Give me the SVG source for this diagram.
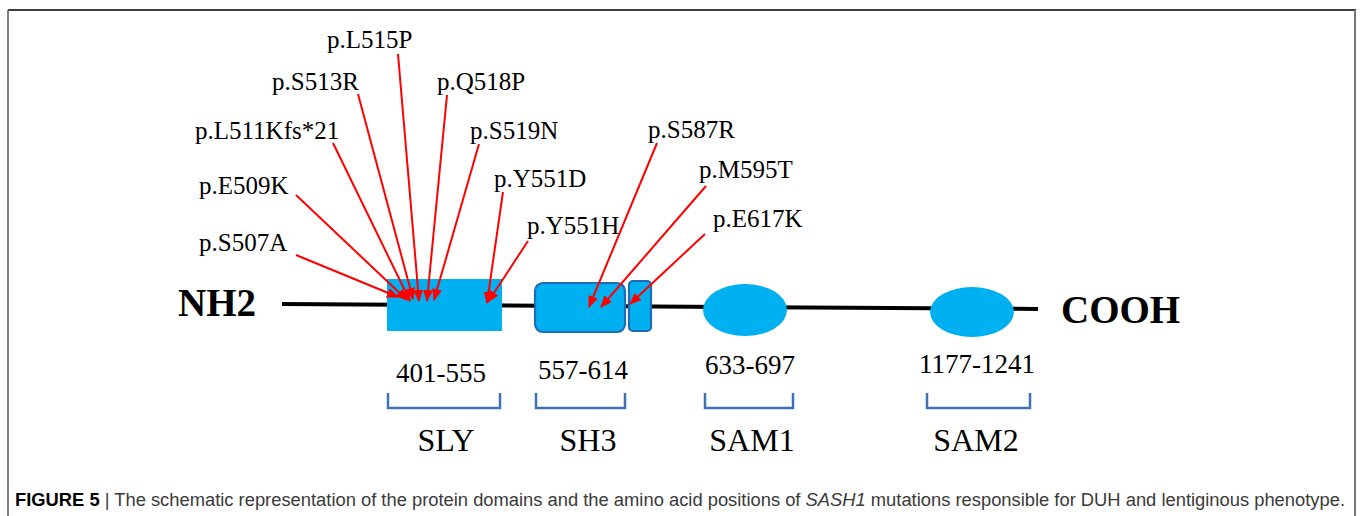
<svg xmlns="http://www.w3.org/2000/svg" width="1360" height="516" viewBox="0 0 1360 516">
<style>
.lbl{font-family:"Liberation Serif","Times New Roman",serif;font-size:25px;fill:#000}
.num{font-family:"Liberation Serif","Times New Roman",serif;font-size:27px;fill:#000;text-anchor:middle}
.dom{font-family:"Liberation Serif","Times New Roman",serif;font-size:32px;fill:#000;text-anchor:middle}
.term{font-family:"Liberation Serif","Times New Roman",serif;font-size:39px;font-weight:bold;fill:#000}
.arrow{stroke:#ff0000;stroke-width:2;fill:none;marker-end:url(#ah)}
.brk{stroke:#3f72b4;stroke-width:2.5;fill:none}
.dfill{fill:#00b0f0}
.dstroke{fill:#00b0f0;stroke:#1f6cb5;stroke-width:2.2}
.cap{font-family:"Liberation Sans",Arial,sans-serif;font-size:18px;fill:#3a3a3a}
</style>
<defs>
<marker id="ah" markerWidth="12" markerHeight="10" refX="11" refY="5" orient="auto" markerUnits="userSpaceOnUse">
<path d="M0,0 L12,5 L0,10 z" fill="#ff0000"/>
</marker>
</defs>
<rect width="1360" height="516" fill="#fff"/>
<g id="frame">
<line x1="8" y1="10" x2="1356" y2="10" stroke="#000" stroke-width="1.5"/>
<line x1="8" y1="10" x2="8" y2="516" stroke="#555" stroke-width="1.5"/>
<line x1="1355" y1="10" x2="1355" y2="516" stroke="#777" stroke-width="2"/>
</g>
<g id="backbone">
<line x1="282" y1="304" x2="1038" y2="309" stroke="#000" stroke-width="4"/>
</g>
<g id="node-NH2"><text class="term" x="178" y="316">NH2</text></g>
<g id="node-COOH"><text class="term" x="1061" y="323">COOH</text></g>
<g id="node-SLY">
<rect class="dfill" x="387" y="279" width="115" height="52"/>
<text class="num" x="441" y="382">401-555</text>
<path class="brk" d="M388,393 V408 H500 V393"/>
<text class="dom" x="446" y="451">SLY</text>
</g>
<g id="node-SH3">
<rect class="dstroke" x="535" y="283" width="90" height="49" rx="8"/>
<rect class="dstroke" x="629" y="281" width="22" height="50" rx="4"/>
<text class="num" x="583" y="379">557-614</text>
<path class="brk" d="M536,393 V408 H625 V393"/>
<text class="dom" x="588" y="451">SH3</text>
</g>
<g id="node-SAM1">
<ellipse class="dfill" cx="745" cy="310" rx="42" ry="26"/>
<text class="num" x="750" y="374">633-697</text>
<path class="brk" d="M705,393 V408 H793 V393"/>
<text class="dom" x="752" y="451">SAM1</text>
</g>
<g id="node-SAM2">
<ellipse class="dfill" cx="972" cy="312" rx="42" ry="25"/>
<text class="num" x="977" y="373">1177-1241</text>
<path class="brk" d="M927,393 V408 H1030 V393"/>
<text class="dom" x="976" y="451">SAM2</text>
</g>
<g id="labels">
<text class="lbl" x="327" y="48">p.L515P</text>
<text class="lbl" x="272" y="90">p.S513R</text>
<text class="lbl" x="437" y="90">p.Q518P</text>
<text class="lbl" x="195" y="139">p.L511Kfs*21</text>
<text class="lbl" x="470" y="139">p.S519N</text>
<text class="lbl" x="199" y="194">p.E509K</text>
<text class="lbl" x="494" y="187">p.Y551D</text>
<text class="lbl" x="199" y="251">p.S507A</text>
<text class="lbl" x="527" y="234">p.Y551H</text>
<text class="lbl" x="648" y="138">p.S587R</text>
<text class="lbl" x="699" y="178">p.M595T</text>
<text class="lbl" x="713" y="227">p.E617K</text>
</g>
<g id="connectors">
<line class="arrow" x1="296" y1="255" x2="398" y2="297"/>
<line class="arrow" x1="296" y1="195" x2="407" y2="300"/>
<line class="arrow" x1="333" y1="143" x2="410" y2="301"/>
<line class="arrow" x1="358" y1="94" x2="413" y2="299"/>
<line class="arrow" x1="398" y1="54" x2="419" y2="301"/>
<line class="arrow" x1="447" y1="95" x2="427" y2="301"/>
<line class="arrow" x1="479" y1="144" x2="434" y2="300"/>
<line class="arrow" x1="503" y1="192" x2="487" y2="303"/>
<line class="arrow" x1="528" y1="241" x2="488" y2="302"/>
<line class="arrow" x1="657" y1="143" x2="589" y2="307"/>
<line class="arrow" x1="706" y1="186" x2="601" y2="307"/>
<line class="arrow" x1="705" y1="234" x2="630" y2="304"/>
</g>
<g id="caption">
<text class="cap" x="15" y="506" textLength="1330" lengthAdjust="spacingAndGlyphs"><tspan font-weight="bold" fill="#000">FIGURE 5</tspan> | The schematic representation of the protein domains and the amino acid positions of <tspan font-style="italic">SASH1</tspan> mutations responsible for DUH and lentiginous phenotype.</text>
</g>
</svg>
